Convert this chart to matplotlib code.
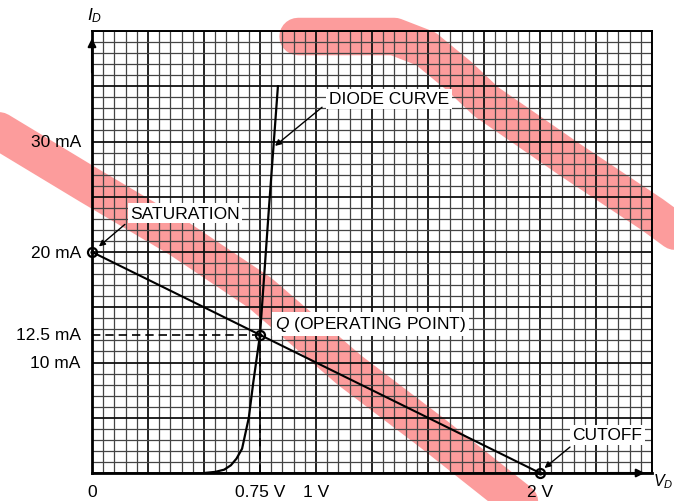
"""Diode load line on graph paper: saturation, cutoff and Q point."""

import matplotlib
matplotlib.use("Agg")
import matplotlib.pyplot as plt
from matplotlib.ticker import MultipleLocator

plt.rcParams["font.family"] = ["Liberation Sans", "DejaVu Sans"]
plt.rcParams["mathtext.fontset"] = "custom"
plt.rcParams["mathtext.it"] = "Liberation Sans:italic"
plt.rcParams["mathtext.rm"] = "Liberation Sans"

# diode characteristic (V, mA)
diode_v = [0.50, 0.55, 0.59, 0.62, 0.645, 0.67, 0.70, 0.72, 0.75, 0.79, 0.83]
diode_i = [0.0, 0.1, 0.3, 0.7, 1.3, 2.2, 5.0, 8.2, 12.5, 24.0, 35.0]

# load line end points and operating point
load_v = [0.0, 2.0]
load_i = [20.0, 0.0]
q_v, q_i = 0.75, 12.5

y_tick_vals = [30, 20, 12.5, 10]
y_tick_text = ["30 mA", "20 mA", "12.5 mA", "10 mA"]
x_tick_vals = [0, 0.75, 1.0, 2.0]
x_tick_text = ["0", "0.75 V", "1 V", "2 V"]

# highlighter strokes (same V / mA units, running off the paper)
hl1_v = [-0.50, -0.41, -0.01, 0.39, 0.75, 1.15, 1.52, 1.90, 2.00]
hl1_i = [32.0, 30.9, 26.0, 21.2, 16.3, 9.3, 3.6, -2.5, -4.0]
hl2_v = [0.92, 1.35, 1.49, 1.64, 1.76, 2.13, 2.50, 2.71]
hl2_i = [39.5, 39.5, 38.4, 35.9, 33.6, 28.4, 23.4, 20.3]
hl3_v = [-0.59, -0.46]
hl3_i = [0.4, -3.7]

PINK = "#fc9c9c"

fig = plt.figure(figsize=(6.74, 5.02), dpi=100)
ax = fig.add_axes([92 / 674, 28 / 502, 560 / 674, 442 / 502])
ax.set_xlim(0, 2.5)
ax.set_ylim(0, 40)

# graph paper
ax.xaxis.set_minor_locator(MultipleLocator(0.05))
ax.yaxis.set_minor_locator(MultipleLocator(1))
ax.xaxis.set_major_locator(MultipleLocator(0.25))
ax.yaxis.set_major_locator(MultipleLocator(5))
ax.grid(which="minor", color="#444444", lw=0.9)
ax.grid(which="major", color="#111111", lw=1.3)
ax.set_axisbelow(True)
ax.tick_params(which="both", length=0, labelbottom=False, labelleft=False)
for side in ["top", "right"]:
    ax.spines[side].set_linewidth(1.4)
for side in ["left", "bottom"]:
    ax.spines[side].set_linewidth(2.0)

for hv, hi in [(hl1_v, hl1_i), (hl2_v, hl2_i), (hl3_v, hl3_i)]:
    ax.plot(hv, hi, color=PINK, lw=27, solid_capstyle="round",
            solid_joinstyle="round", clip_on=False, zorder=0.2)

ax.plot(diode_v, diode_i, color="black", lw=1.6, zorder=3)
ax.plot(load_v, load_i, color="black", lw=1.5, zorder=3)
ax.plot([0, q_v], [q_i, q_i], color="black", lw=1.2, ls=(0, (5, 3)), zorder=3)
ax.plot([q_v, q_v], [0, q_i], color="black", lw=1.2, ls=(0, (5, 3)), zorder=3)

pts_v = [load_v[0], q_v, load_v[1]]
pts_i = [load_i[0], q_i, load_i[1]]
ax.plot(pts_v, pts_i, "o", ms=6.5, mfc="none", mec="black", mew=1.6,
        clip_on=False, zorder=4)
ax.plot(pts_v, pts_i, "o", ms=2, color="black", clip_on=False, zorder=4)

# axis arrows
ax.annotate("", xy=(0, 39.6), xytext=(0, 36),
            arrowprops=dict(arrowstyle="-|>", color="black", lw=1.5, mutation_scale=12))
ax.annotate("", xy=(2.48, 0), xytext=(2.3, 0),
            arrowprops=dict(arrowstyle="-|>", color="black", lw=1.5, mutation_scale=12))
ax.text(0.013, 41.5, r"$I_D$", fontsize=12.5, ha="center", va="center", clip_on=False)
ax.text(2.506, -0.7, r"$V_D$", fontsize=11.5, ha="left", va="center", clip_on=False)

for val, txt in zip(y_tick_vals, y_tick_text):
    ax.text(-0.05, val, txt, fontsize=12.5, ha="right", va="center")
for val, txt in zip(x_tick_vals, x_tick_text):
    ax.text(val, -1.7, txt, fontsize=12.5, ha="center", va="center")

box = dict(boxstyle="square,pad=0.15", fc="white", ec="none")
arrow = dict(arrowstyle="-|>", color="black", lw=1.0, mutation_scale=9, shrinkA=0, shrinkB=0)

ax.text(1.326, 33.85, "DIODE CURVE", fontsize=12.5, ha="center", va="center", bbox=box, zorder=5)
ax.annotate("", xy=(0.817, 29.6), xytext=(1.027, 33.1), arrowprops=arrow, zorder=5)

ax.text(0.415, 23.5, "SATURATION", fontsize=12.5, ha="center", va="center", bbox=box, zorder=5)
ax.annotate("", xy=(0.031, 20.5), xytext=(0.147, 22.5), arrowprops=arrow, zorder=5)

ax.text(0.817, 13.5, r"$Q$ (OPERATING POINT)", fontsize=12.5, ha="left", va="center",
        bbox=box, zorder=5)

ax.text(2.30, 3.44, "CUTOFF", fontsize=12.5, ha="center", va="center", bbox=box, zorder=5)
ax.annotate("", xy=(2.02, 0.45), xytext=(2.134, 2.35), arrowprops=arrow, zorder=5)

fig.savefig("out.png", dpi=100)
